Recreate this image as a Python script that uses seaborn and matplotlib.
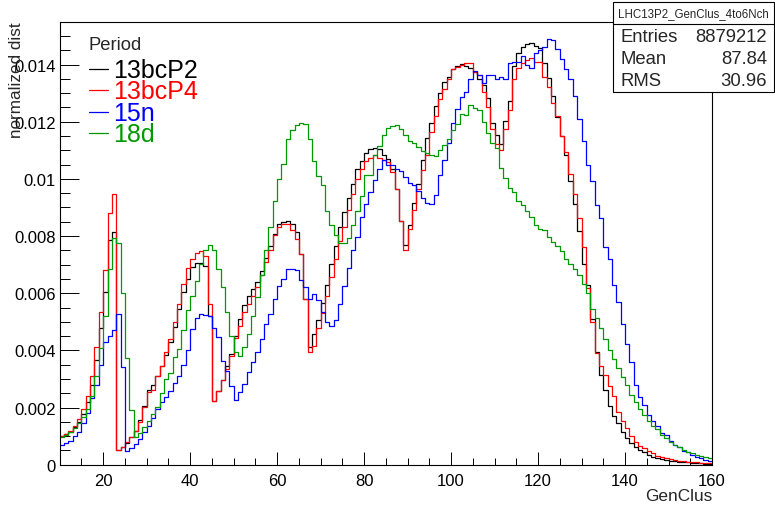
import matplotlib
matplotlib.use("Agg")
import matplotlib.pyplot as plt
from matplotlib.lines import Line2D
from matplotlib.patches import Rectangle
from matplotlib.ticker import MultipleLocator, FuncFormatter
import numpy as np
import pandas as pd
import seaborn as sns

# ---------------------------------------------------------------------------
# Data: normalized dist per GenClus bin (bins of width 1, 10..160), units 1e-3
# ---------------------------------------------------------------------------
bin_lo, bin_hi = 10, 160
periods = ["13bcP2", "13bcP4", "15n", "18d"]
colors = ["black", "#ff0000", "#0000ff", "#009900"]

dist_13bcP2 = [
    1.02, 1.06, 1.16, 1.31, 1.48, 1.78, 2.18, 2.80, 3.67, 4.79,
    6.06, 7.85, 8.14, 0.53, 0.61, 0.75, 0.98, 1.19, 1.55, 2.05,
    2.60, 2.78, 3.12, 3.45, 3.85, 4.30, 4.82, 5.45, 6.05, 6.50,
    6.91, 7.05, 7.05, 6.95, 5.22, 2.24, 2.58, 2.95, 3.47, 3.88,
    4.50, 5.10, 5.60, 5.92, 6.15, 6.39, 6.76, 7.23, 7.64, 8.08,
    8.41, 8.49, 8.54, 8.43, 8.14, 7.38, 5.80, 4.11, 4.58, 5.05,
    5.66, 6.29, 7.03, 7.65, 8.31, 8.84, 9.33, 9.83, 10.36, 10.63,
    10.91, 11.03, 11.08, 11.03, 10.85, 10.68, 10.36, 9.63, 8.51, 7.67,
    8.40, 9.17, 9.83, 10.67, 11.43, 11.96, 12.54, 12.99, 13.40, 13.57,
    13.86, 13.94, 14.01, 13.95, 13.88, 13.74, 13.49, 13.28, 12.83, 11.97,
    11.53, 11.23, 12.02, 12.72, 13.95, 14.41, 14.62, 14.72, 14.76, 14.65,
    14.58, 14.04, 13.53, 12.89, 12.17, 11.50, 10.85, 9.91, 9.11, 8.17,
    7.03, 6.29, 5.10, 3.96, 3.14, 2.62, 2.07, 1.72, 1.45, 1.16,
    0.92, 0.75, 0.61, 0.51, 0.43, 0.34, 0.28, 0.23, 0.20, 0.16,
    0.14, 0.12, 0.10, 0.09, 0.08, 0.07, 0.06, 0.05, 0.04, 0.04,
]
dist_13bcP4 = [
    1.02, 1.07, 1.17, 1.37, 1.60, 1.95, 2.42, 3.12, 4.11, 5.34,
    6.82, 8.82, 9.48, 0.53, 0.61, 0.78, 0.96, 1.17, 1.51, 2.01,
    2.53, 2.63, 3.12, 3.47, 3.94, 4.40, 4.99, 5.63, 6.33, 6.88,
    7.20, 7.42, 7.46, 7.30, 5.64, 2.24, 2.57, 2.98, 3.36, 3.82,
    4.45, 4.87, 5.34, 5.63, 5.92, 6.21, 6.62, 7.09, 7.50, 8.02,
    8.32, 8.41, 8.43, 8.20, 7.88, 7.37, 5.80, 3.94, 4.17, 4.78,
    5.31, 5.92, 6.56, 7.18, 7.81, 8.31, 8.90, 9.48, 10.01, 10.36,
    10.62, 10.73, 10.83, 10.73, 10.65, 10.59, 10.24, 9.63, 8.51, 7.50,
    8.26, 8.90, 9.66, 10.30, 10.83, 11.64, 12.20, 12.79, 13.16, 13.51,
    13.84, 13.92, 14.00, 14.06, 14.04, 13.74, 13.65, 13.04, 12.52, 11.76,
    11.23, 11.00, 11.76, 12.40, 13.48, 13.88, 14.04, 14.15, 14.23, 14.09,
    14.09, 13.57, 13.22, 12.67, 12.19, 11.50, 10.94, 10.18, 9.46, 8.63,
    7.61, 6.18, 4.99, 3.90, 3.47, 3.14, 2.77, 2.42, 1.83, 1.54,
    1.27, 1.02, 0.78, 0.67, 0.57, 0.47, 0.40, 0.32, 0.28, 0.23,
    0.20, 0.16, 0.14, 0.12, 0.10, 0.09, 0.08, 0.07, 0.06, 0.05,
]
dist_15n = [
    0.69, 0.75, 0.84, 0.99, 1.16, 1.45, 1.80, 2.32, 2.79, 3.49,
    4.29, 4.52, 4.70, 5.28, 3.43, 0.49, 0.57, 0.72, 0.90, 1.13,
    1.37, 1.62, 1.95, 2.18, 2.36, 2.59, 2.86, 3.12, 3.50, 4.00,
    4.76, 5.13, 5.28, 5.24, 5.20, 4.78, 4.46, 3.64, 3.29, 2.74,
    2.27, 2.56, 2.83, 3.23, 3.58, 3.94, 4.40, 4.93, 5.28, 5.80,
    6.24, 6.50, 6.85, 6.83, 6.80, 6.45, 6.21, 5.80, 5.98, 5.75,
    5.36, 5.01, 4.85, 5.05, 5.63, 6.25, 6.88, 7.50, 7.96, 8.66,
    9.13, 9.54, 9.95, 10.36, 10.65, 10.50, 10.47, 10.33, 10.26, 10.07,
    9.87, 9.77, 9.56, 9.33, 9.17, 9.13, 9.45, 10.12, 10.65, 11.27,
    11.97, 12.46, 12.87, 13.04, 13.51, 13.78, 13.65, 13.37, 13.65, 13.63,
    13.51, 13.57, 13.51, 14.04, 14.10, 14.10, 14.30, 13.98, 13.88, 14.39,
    14.50, 14.62, 14.91, 14.85, 14.56, 14.21, 13.86, 13.48, 12.89, 12.10,
    11.31, 10.47, 9.91, 9.10, 8.63, 7.61, 7.18, 6.29, 5.69, 4.93,
    4.23, 3.58, 2.79, 2.36, 2.09, 1.74, 1.54, 1.37, 1.10, 1.04,
    0.84, 0.69, 0.61, 0.49, 0.43, 0.34, 0.28, 0.22, 0.18, 0.14,
]
dist_18d = [
    0.98, 1.04, 1.13, 1.27, 1.45, 1.66, 1.95, 2.42, 3.12, 4.08,
    5.22, 6.85, 7.93, 7.75, 6.01, 3.74, 1.93, 0.96, 1.11, 1.31,
    1.54, 1.78, 2.03, 2.50, 3.00, 3.20, 3.76, 4.05, 4.70, 5.40,
    5.90, 6.41, 7.03, 7.50, 7.67, 7.50, 6.86, 6.21, 5.34, 4.52,
    3.94, 3.82, 4.11, 4.58, 5.22, 5.86, 6.65, 7.52, 8.32, 9.21,
    10.01, 10.51, 11.39, 11.70, 11.88, 11.96, 11.91, 11.39, 10.62, 10.10,
    9.77, 8.86, 8.37, 8.05, 7.77, 7.77, 7.93, 8.37, 8.86, 9.40,
    10.12, 10.15, 10.83, 11.15, 11.55, 11.78, 11.85, 11.87, 11.76, 11.53,
    11.33, 11.27, 11.12, 10.97, 10.92, 10.85, 10.79, 11.02, 11.20, 11.41,
    11.70, 11.93, 12.28, 12.25, 12.60, 12.48, 12.40, 11.99, 11.62, 11.27,
    11.08, 10.38, 10.04, 9.68, 9.54, 9.21, 9.10, 8.86, 8.66, 8.37,
    8.23, 8.20, 7.96, 7.79, 7.65, 7.46, 7.20, 7.03, 6.83, 6.62,
    6.33, 6.00, 5.45, 5.13, 4.78, 4.40, 4.03, 3.70, 3.37, 3.06,
    2.79, 2.44, 2.18, 1.95, 1.74, 1.54, 1.37, 1.25, 1.04, 0.93,
    0.78, 0.69, 0.61, 0.53, 0.46, 0.40, 0.35, 0.32, 0.28, 0.25,
]
series = [dist_13bcP2, dist_13bcP4, dist_15n, dist_18d]

x_ticks = [20, 40, 60, 80, 100, 120, 140, 160]
y_max = 0.0155

stat_title = "LHC13P2_GenClus_4to6Nch"
stat_names = ["Entries", "Mean", "RMS"]
stat_values = ["8879212", "87.84", "30.96"]

# ---------------------------------------------------------------------------
# Long-form table for seaborn
# ---------------------------------------------------------------------------
edges = list(range(bin_lo, bin_hi + 1))
centers = np.array(edges[:-1]) + 0.5
df = pd.concat(
    [
        pd.DataFrame({"GenClus": centers, "dist": np.array(v) * 1e-3, "Period": p})
        for p, v in zip(periods, series)
    ],
    ignore_index=True,
)

# ---------------------------------------------------------------------------
# Figure (pixel helpers, canvas 775 x 506)
# ---------------------------------------------------------------------------
W, H = 775, 506


def fx(px):
    return px / W


def fy(py):
    return 1 - py / H


sns.set_theme(style="ticks")
plt.rcParams["font.family"] = ["Liberation Sans", "DejaVu Sans"]

fig = plt.figure(figsize=(W / 100, H / 100), dpi=100)
fig.patch.set_facecolor("white")
frame_l, frame_r, frame_t, frame_b = 59.7, 712.0, 22.7, 465.7
ax = fig.add_axes([fx(frame_l), fy(frame_b), (frame_r - frame_l) / W, (frame_b - frame_t) / H])

for p, c in zip(periods, colors):
    sns.histplot(
        data=df[df["Period"] == p], x="GenClus", weights="dist", bins=edges,
        element="step", fill=False, color=c, linewidth=0.9, ax=ax,
    )

ax.set_xlim(bin_lo, bin_hi)
ax.set_ylim(0, y_max)
ax.set_xlabel("")
ax.set_ylabel("")

ax.xaxis.set_major_locator(plt.FixedLocator(x_ticks))
ax.xaxis.set_minor_locator(MultipleLocator(5))
ax.yaxis.set_major_locator(MultipleLocator(0.002))
ax.yaxis.set_minor_locator(MultipleLocator(0.0005))
ax.yaxis.set_major_formatter(FuncFormatter(lambda v, _: "0" if abs(v) < 1e-12 else f"{v:g}"))

ax.tick_params(axis="both", which="both", direction="in", color="black", width=0.7,
               top=False, right=False, labelsize=12, labelcolor="black")
ax.tick_params(axis="x", which="major", length=9.4, pad=6)
ax.tick_params(axis="x", which="minor", length=4.7)
ax.tick_params(axis="y", which="major", length=14, pad=3)
ax.tick_params(axis="y", which="minor", length=7)
for s in ax.spines.values():
    s.set_color("black")
    s.set_linewidth(0.8)
    s.set_visible(True)

# axis titles (ROOT style: at the axis ends)
fig.text(fx(712), fy(497), "GenClus", ha="right", va="center", fontsize=12.4)
fig.text(fx(17), fy(22.7), "normalized dist", rotation=90, ha="center", va="top", fontsize=12.3)

# legend (no border)
fig.text(fx(88), fy(46), "Period", ha="left", va="center", fontsize=13.2)
row_y = [70, 91, 112.5, 134]
for p, c, y in zip(periods, colors, row_y):
    fig.add_artist(Line2D([fx(89), fx(108)], [fy(y), fy(y)], transform=fig.transFigure,
                          color=c, lw=0.9))
    fig.text(fx(113), fy(y + 1.5), p, ha="left", va="center", fontsize=18, color=c)

# stat box
box_l, box_r, box_t, box_m, box_b = 613, 774, 3, 25, 93
fig.add_artist(Rectangle((fx(box_l), fy(box_b)), (box_r - box_l) / W, (box_b - box_t) / H,
                         transform=fig.transFigure, facecolor="white", edgecolor="black",
                         lw=0.8, zorder=5))
fig.add_artist(Line2D([fx(box_l), fx(box_r)], [fy(box_m), fy(box_m)], transform=fig.transFigure,
                      color="black", lw=0.8, zorder=6))
fig.text(fx((box_l + box_r) / 2), fy(14), stat_title, ha="center", va="center",
         fontsize=8.3, zorder=7)
for i, (k, v) in enumerate(zip(stat_names, stat_values)):
    y = fy(37 + 22 * i)
    fig.text(fx(621), y, k, ha="left", va="center", fontsize=13.3, zorder=7)
    fig.text(fx(767), y, v, ha="right", va="center", fontsize=13.3, zorder=7)

fig.savefig("out.png", dpi=100, facecolor="white")
plt.close(fig)
